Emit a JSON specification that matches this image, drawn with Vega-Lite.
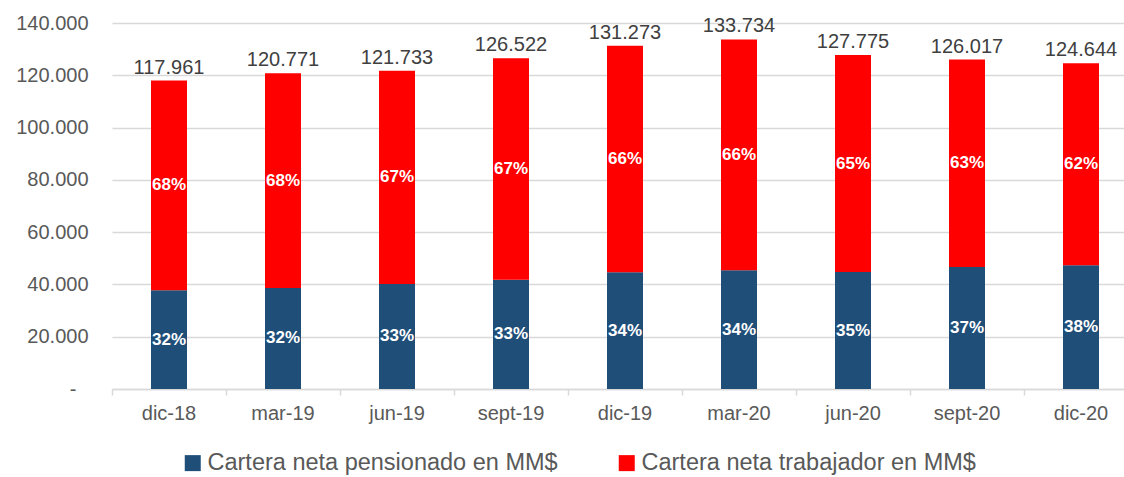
{
  "$schema": "https://vega.github.io/schema/vega-lite/v6.json",
  "width": 1026,
  "height": 366,
  "autosize": "none",
  "padding": {"left": 112, "top": 23, "right": 0, "bottom": 88},
  "config": {
    "locale": {"number": {"decimal": ",", "thousands": ".", "grouping": [3], "currency": ["$", ""]}},
    "view": {"stroke": null},
    "font": "Liberation Sans"
  },
  "data": {
    "values": [
      {"period": "dic-18", "series": "Cartera neta pensionado en MM$", "value": 37748, "pct": "32%"},
      {"period": "dic-18", "series": "Cartera neta trabajador en MM$", "value": 80213, "pct": "68%"},
      {"period": "mar-19", "series": "Cartera neta pensionado en MM$", "value": 38647, "pct": "32%"},
      {"period": "mar-19", "series": "Cartera neta trabajador en MM$", "value": 82124, "pct": "68%"},
      {"period": "jun-19", "series": "Cartera neta pensionado en MM$", "value": 40172, "pct": "33%"},
      {"period": "jun-19", "series": "Cartera neta trabajador en MM$", "value": 81561, "pct": "67%"},
      {"period": "sept-19", "series": "Cartera neta pensionado en MM$", "value": 41752, "pct": "33%"},
      {"period": "sept-19", "series": "Cartera neta trabajador en MM$", "value": 84770, "pct": "67%"},
      {"period": "dic-19", "series": "Cartera neta pensionado en MM$", "value": 44633, "pct": "34%"},
      {"period": "dic-19", "series": "Cartera neta trabajador en MM$", "value": 86640, "pct": "66%"},
      {"period": "mar-20", "series": "Cartera neta pensionado en MM$", "value": 45470, "pct": "34%"},
      {"period": "mar-20", "series": "Cartera neta trabajador en MM$", "value": 88264, "pct": "66%"},
      {"period": "jun-20", "series": "Cartera neta pensionado en MM$", "value": 44721, "pct": "35%"},
      {"period": "jun-20", "series": "Cartera neta trabajador en MM$", "value": 83054, "pct": "65%"},
      {"period": "sept-20", "series": "Cartera neta pensionado en MM$", "value": 46626, "pct": "37%"},
      {"period": "sept-20", "series": "Cartera neta trabajador en MM$", "value": 79391, "pct": "63%"},
      {"period": "dic-20", "series": "Cartera neta pensionado en MM$", "value": 47365, "pct": "38%"},
      {"period": "dic-20", "series": "Cartera neta trabajador en MM$", "value": 77279, "pct": "62%"}
    ]
  },
  "encoding": {
    "x": {
      "field": "period",
      "type": "nominal",
      "sort": null,
      "scale": {"paddingInner": 0, "paddingOuter": 0},
      "axis": {
        "title": null,
        "labelAngle": 0,
        "labelFontSize": 20,
        "labelColor": "#595959",
        "labelPadding": 8,
        "bandPosition": 0,
        "tickSize": 6,
        "tickColor": "#d9d9d9",
        "tickWidth": 1.5,
        "domainColor": "#d9d9d9",
        "domainWidth": 1.5,
        "grid": false
      }
    }
  },
  "layer": [
    {
      "mark": {"type": "bar", "size": 36},
      "encoding": {
        "y": {
          "field": "value",
          "type": "quantitative",
          "stack": "zero",
          "scale": {"domain": [0, 140000], "nice": false},
          "axis": {
            "title": null,
            "values": [0, 20000, 40000, 60000, 80000, 100000, 120000, 140000],
            "labelExpr": "datum.value == 0 ? '-' : format(datum.value, ',')",
            "labelFontSize": 20,
            "labelColor": "#595959",
            "labelPadding": {"condition": {"test": "datum.value == 0", "value": 36}, "value": 24},
            "domain": false,
            "ticks": false,
            "grid": true,
            "gridColor": "#d9d9d9",
            "gridWidth": 1.5
          }
        },
        "order": {"field": "series", "sort": "ascending"},
        "color": {
          "field": "series",
          "type": "nominal",
          "scale": {
            "domain": ["Cartera neta pensionado en MM$", "Cartera neta trabajador en MM$"],
            "range": ["#1F4E79", "#FF0000"]
          },
          "legend": {
            "title": null,
            "orient": "none",
            "legendX": 69,
            "legendY": 428,
            "direction": "horizontal",
            "symbolType": "square",
            "symbolSize": 256,
            "symbolStrokeWidth": 0,
            "labelFontSize": 23.5,
            "labelLimit": 0,
            "labelColor": "#595959",
            "labelOffset": 3,
            "columnPadding": 57
          }
        }
      }
    },
    {
      "mark": {"type": "text", "color": "white", "fontWeight": "bold", "fontSize": 17, "baseline": "middle"},
      "encoding": {
        "y": {"field": "value", "type": "quantitative", "stack": "zero", "bandPosition": 0.5},
        "detail": {"field": "series", "type": "nominal"},
        "order": {"field": "series", "sort": "ascending"},
        "text": {"field": "pct", "type": "nominal"}
      }
    },
    {
      "mark": {"type": "text", "color": "#404040", "fontSize": 20, "baseline": "alphabetic", "dy": -7},
      "encoding": {
        "y": {"aggregate": "sum", "field": "value", "type": "quantitative"},
        "text": {"aggregate": "sum", "field": "value", "type": "quantitative", "format": ","}
      }
    }
  ]
}
